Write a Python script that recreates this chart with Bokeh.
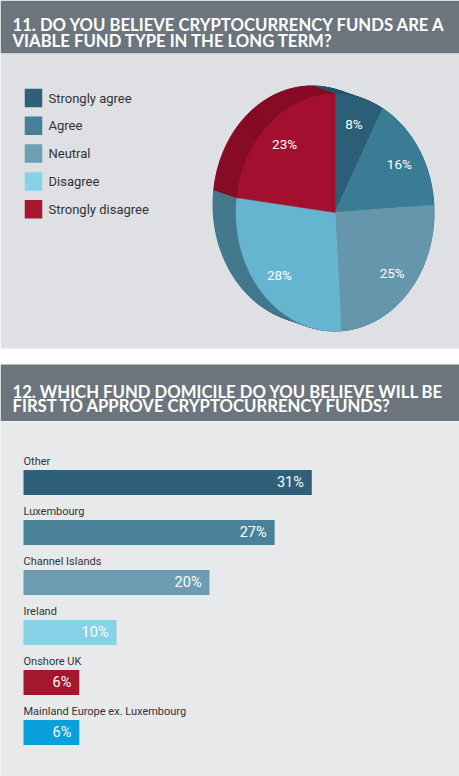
import numpy as np
from bokeh.plotting import figure
from bokeh.layouts import column
from bokeh.models import Range1d
from bokeh.core.properties import value
from bokeh.embed import file_html
from bokeh.resources import INLINE

# ---------------- data ----------------
title1 = ["11. DO YOU BELIEVE CRYPTOCURRENCY FUNDS ARE A", "VIABLE FUND TYPE IN THE LONG TERM?"]
title2 = ["12. WHICH FUND DOMICILE DO YOU BELIEVE WILL BE", "FIRST TO APPROVE CRYPTOCURRENCY FUNDS?"]

pie_labels = ["Strongly agree", "Agree", "Neutral", "Disagree", "Strongly disagree"]
pie_values = [8, 16, 25, 28, 23]

bar_labels = ["Other", "Luxembourg", "Channel Islands", "Ireland", "Onshore UK",
              "Mainland Europe ex. Luxembourg"]
bar_values = [31, 27, 20, 10, 6, 6]

# ---------------- styles ----------------
HEADER = "#6c757d"
PANEL1 = "#dfe0e3"
PANEL2 = "#e8e9eb"
legend_colors = ["#2e6179", "#44809a", "#6e9fb4", "#86d2e6", "#a51731"]
face_colors = ["#2b5f78", "#3a7c94", "#6596ab", "#66b5d0", "#a30f2e"]
side_colors = ["#24536a", "#2f6a80", "#4f7f93", "#42788b", "#870a24"]
bar_colors = ["#2f6079", "#4a8299", "#6c9db3", "#86d2e6", "#a3172f", "#0aa0dc"]
TXT_FONT = value("Roboto")
HEAD_FONT = value("Lato")

W = 459
H_TOP = 421
H_BAR = 776 - H_TOP

# ---------------- top figure (pixel coordinates) ----------------
top = figure(width=W, height=H_TOP, x_range=Range1d(0, W), y_range=Range1d(H_TOP, 0),
             output_backend="svg", toolbar_location=None, min_border=0)
top.axis.visible = False
top.grid.visible = False
top.outline_line_color = None
top.background_fill_color = "white"
top.border_fill_color = "white"

top.quad(left=0, right=W, top=0, bottom=53, fill_color=HEADER, line_color=None)
top.quad(left=0, right=W, top=53, bottom=348, fill_color=PANEL1, line_color=None)
top.quad(left=0, right=W, top=364, bottom=H_TOP, fill_color=HEADER, line_color=None)

top.text(x=[12, 12], y=[24.5, 40], text=title1, text_color="white",
         text_font=HEAD_FONT, text_font_style="bold", text_font_size="16.7px",
         text_baseline="alphabetic")
top.text(x=[12, 12], y=[391, 405.5], text=title2, text_color="white",
         text_font=HEAD_FONT, text_font_style="bold", text_font_size="16.7px",
         text_baseline="alphabetic")

# legend
ly = [97.5 + 27.8 * i for i in range(len(pie_labels))]
top.rect(x=33, y=ly, width=17.5, height=18.5, fill_color=legend_colors, line_color=None)
top.text(x=48, y=ly, text=pie_labels, text_color="#333333", text_font=TXT_FONT,
         text_font_size="13px", text_baseline="middle")

# 3D-ish pie
cx, cy, rx, ry = 334.5, 212.0, 99.0, 118.5
dx, dy = -23.0, -8.0
total = float(sum(pie_values))
starts = np.cumsum([0] + pie_values[:-1]) / total * 2 * np.pi
ends = np.cumsum(pie_values) / total * 2 * np.pi

# sides (swept arcs)
qx, qy, qc = [], [], []
for a0, a1, col in zip(starts, ends, side_colors):
    th = np.linspace(a0, a1, max(3, int((a1 - a0) / np.pi * 180)))
    px = cx + rx * np.sin(th)
    py = cy - ry * np.cos(th)
    for i in range(len(th) - 1):
        qx.append([px[i], px[i + 1], px[i + 1] + dx, px[i] + dx])
        qy.append([py[i], py[i + 1], py[i + 1] + dy, py[i] + dy])
        qc.append(col)
top.patches(qx, qy, fill_color=qc, line_color=qc, line_width=1)

# faces
fx, fy = [], []
for a0, a1 in zip(starts, ends):
    th = np.linspace(a0, a1, 120)
    fx.append([cx] + list(cx + rx * np.sin(th)))
    fy.append([cy] + list(cy - ry * np.cos(th)))
top.patches(fx, fy, fill_color=face_colors, line_color=face_colors, line_width=0.5)

mid = (starts + ends) / 2
lab_r = 0.77
top.text(x=cx + lab_r * rx * np.sin(mid), y=cy - lab_r * ry * np.cos(mid),
         text=[f"{v}%" for v in pie_values], text_color="white", text_font=TXT_FONT,
         text_font_size="13.5px", text_align="center", text_baseline="middle")

# ---------------- bar figure ----------------
px_per = 9.3
x0 = 23.0
bar = figure(width=W, height=H_BAR,
             x_range=Range1d((0 - x0) / px_per, (W - x0) / px_per),
             y_range=Range1d((776 - 482) / 50.0, (H_TOP - 482) / 50.0),
             output_backend="svg", toolbar_location=None, min_border=0)
bar.axis.visible = False
bar.grid.visible = False
bar.outline_line_color = None
bar.background_fill_color = PANEL2
bar.border_fill_color = PANEL2

yi = list(range(len(bar_labels)))
bar.hbar(y=yi, left=0, right=bar_values, height=0.5, fill_color=bar_colors, line_color=None)
bar.text(x=bar_values, y=yi, x_offset=-8, text=[f"{v}%" for v in bar_values],
         text_color="white", text_font=TXT_FONT, text_font_size="14.5px",
         text_align="right", text_baseline="middle")
bar.text(x=0, y=[i - 0.42 for i in yi], text=bar_labels, text_color="#333333",
         text_font=TXT_FONT, text_font_size="11px", text_baseline="alphabetic")

layout = column(top, bar, spacing=0)
open("out.html", "w").write(file_html(layout, INLINE))
